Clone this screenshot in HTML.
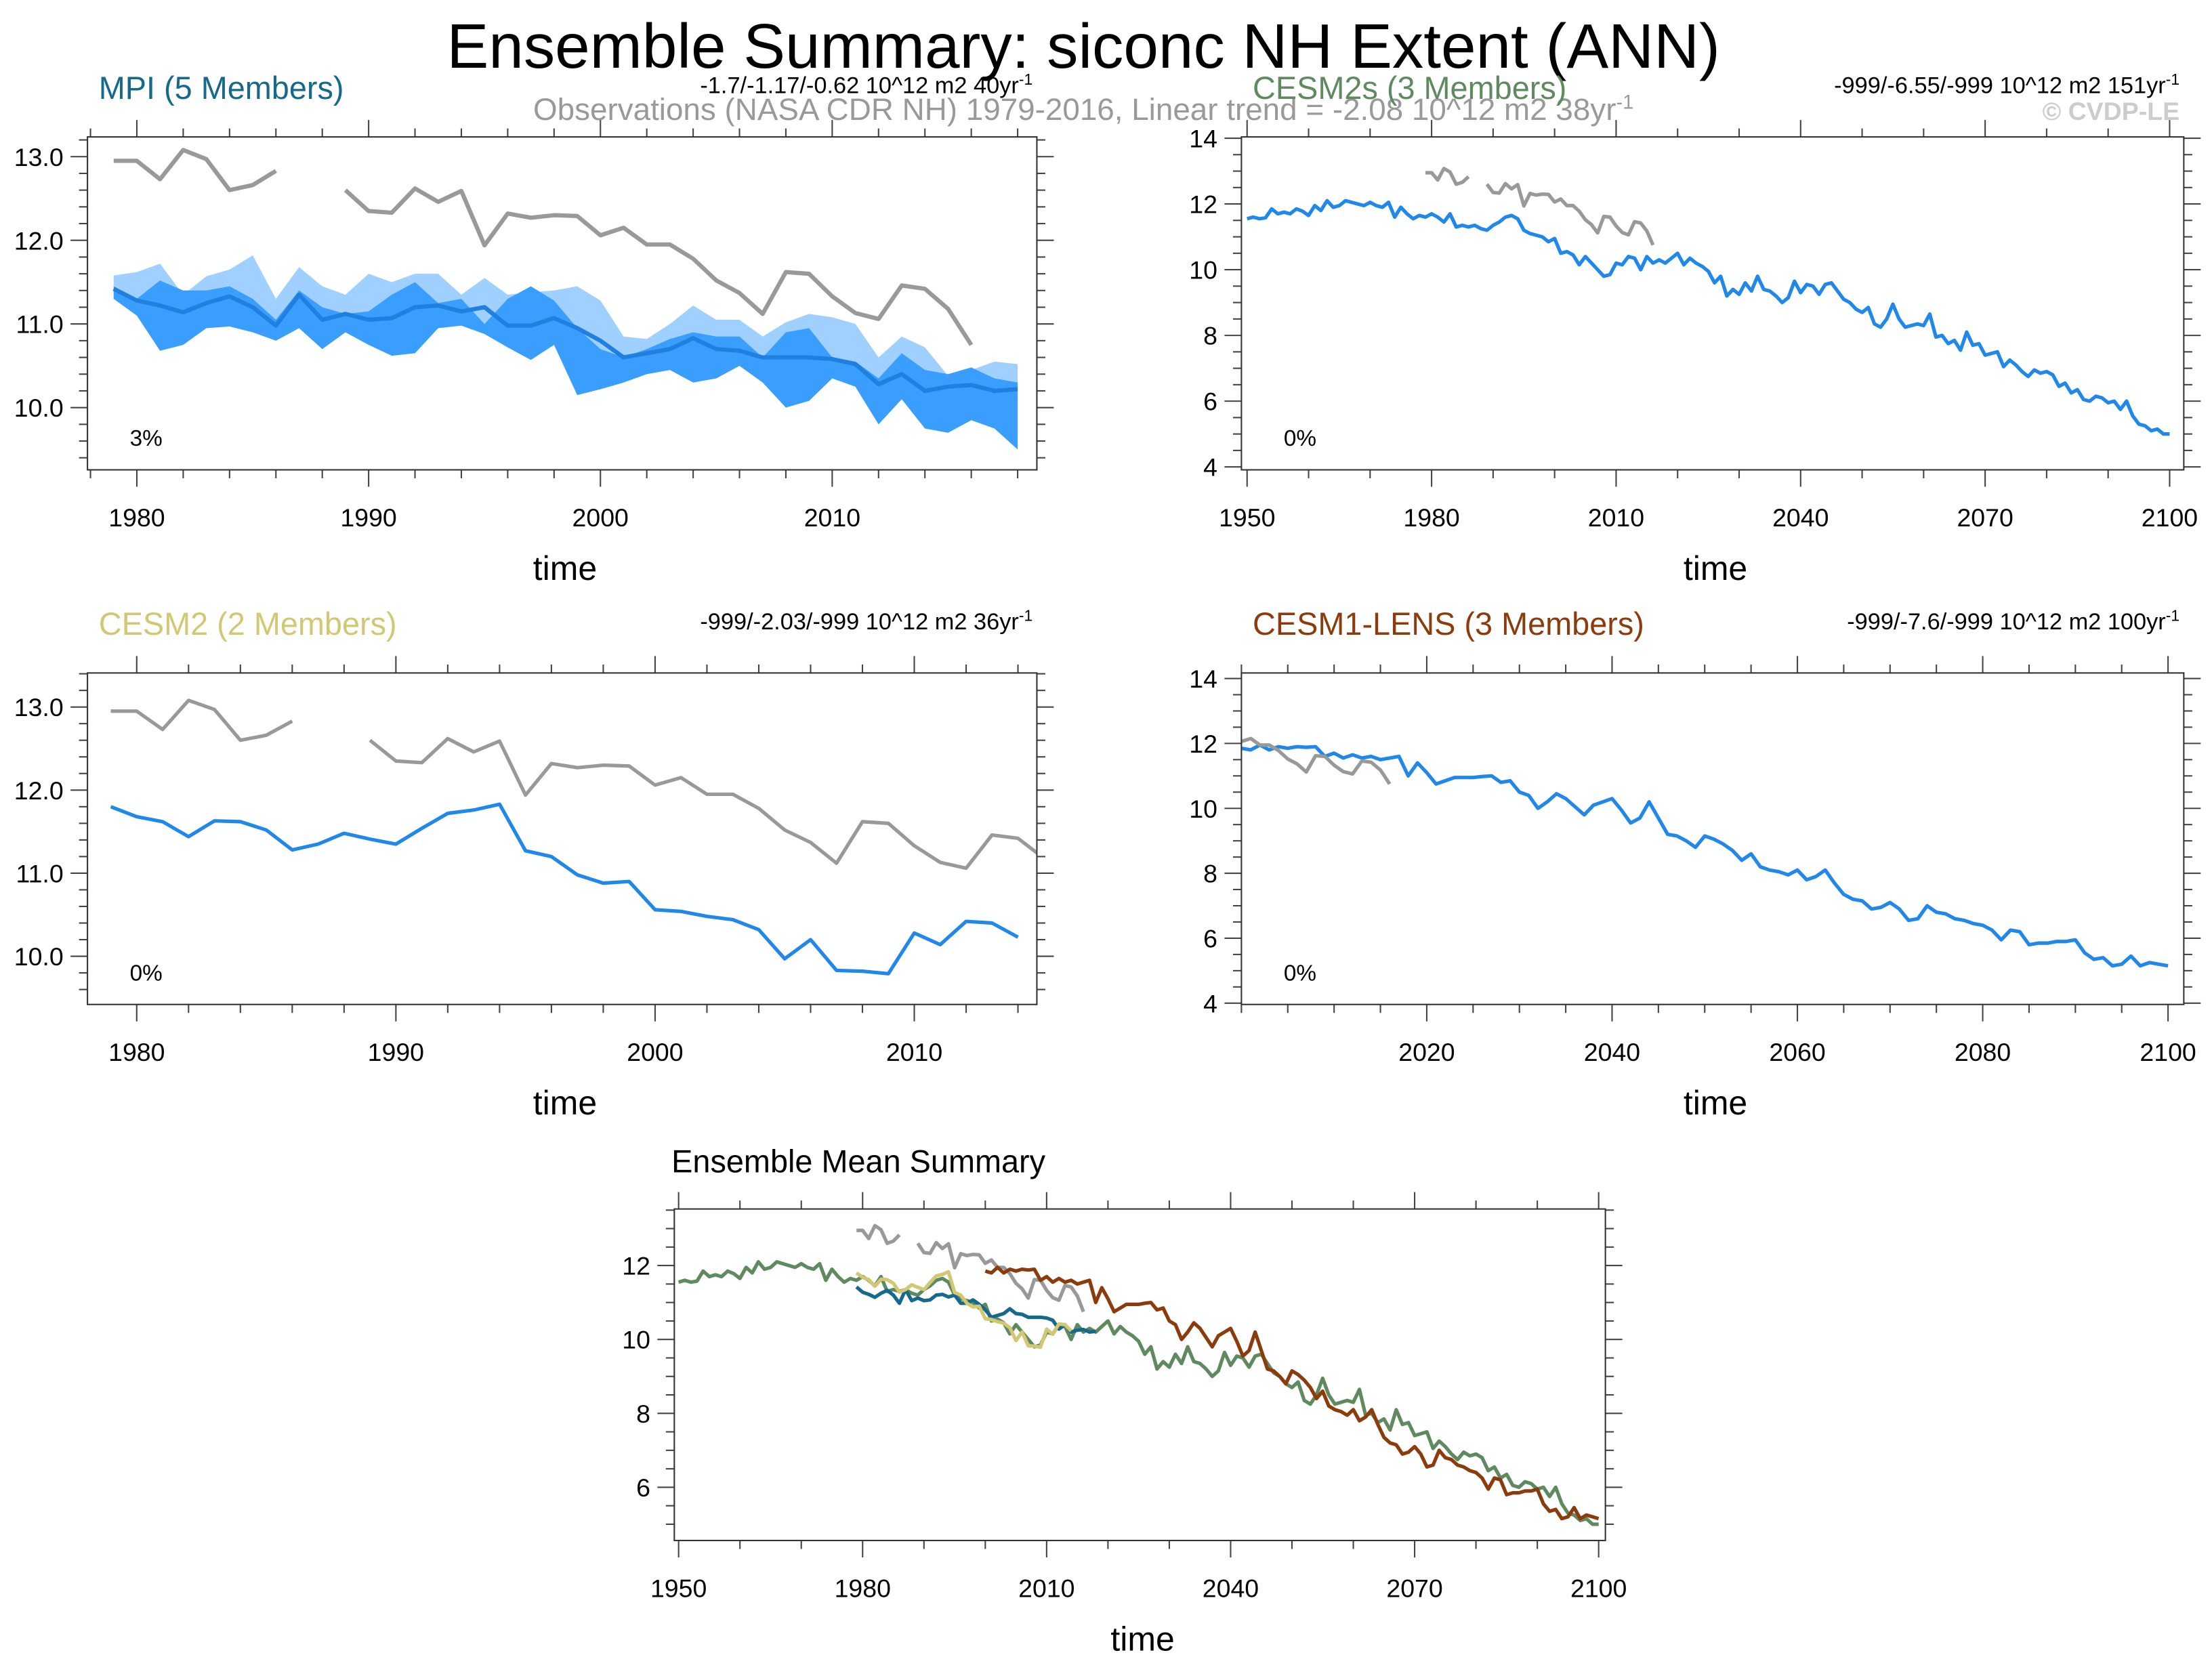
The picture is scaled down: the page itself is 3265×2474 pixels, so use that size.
<!DOCTYPE html>
<html><head><meta charset="utf-8"><style>
html,body{margin:0;padding:0;background:#fff;}
svg{display:block;font-family:"Liberation Sans",Arial,sans-serif;}
</style></head><body>
<svg id="chart" xmlns="http://www.w3.org/2000/svg" width="3265" height="2474" viewBox="0 0 1568 1188">
<rect x="0" y="0" width="1568" height="1188" fill="#fff"/>
<text x="768" y="48" font-size="44.5" text-anchor="middle">Ensemble Summary: siconc NH Extent (ANN)</text>
<text x="768" y="85" font-size="22" fill="#999" text-anchor="middle">Observations (NASA CDR NH) 1979-2016, Linear trend = -2.08 10^12 m2 38yr<tspan dy="-8" font-size="14">-1</tspan></text>
<text x="1545" y="85" font-size="18" font-weight="bold" fill="#ccc" text-anchor="end">© CVDP-LE</text>
</svg>
<script>
// ---- data ----
const obsYears = [1979,1980,1981,1982,1983,1984,1985,1986,1987,1988,1989,1990,1991,1992,1993,1994,1995,1996,1997,1998,1999,2000,2001,2002,2003,2004,2005,2006,2007,2008,2009,2010,2011,2012,2013,2014,2015,2016];
const obsValues = [12.95,12.95,12.73,13.08,12.97,12.6,12.66,12.83,null,null,12.6,12.35,12.33,12.62,12.46,12.59,11.94,12.32,12.27,12.3,12.29,12.06,12.15,11.95,11.95,11.78,11.52,11.37,11.12,11.62,11.6,11.33,11.13,11.06,11.46,11.42,11.18,10.75];
const mpiStart = 1979;
const mpiMean = [11.42,11.28,11.22,11.14,11.25,11.33,11.2,10.98,11.35,11.05,11.12,11.05,11.07,11.2,11.22,11.15,11.2,10.98,10.98,11.07,10.95,10.8,10.6,10.65,10.7,10.83,10.7,10.68,10.6,10.6,10.6,10.58,10.52,10.28,10.4,10.2,10.25,10.27,10.2,10.22];
const mpiMin = [11.3,11.1,10.68,10.75,10.95,10.97,10.9,10.8,10.95,10.7,10.9,10.75,10.62,10.65,10.95,10.98,10.88,10.72,10.57,10.75,10.15,10.22,10.3,10.4,10.45,10.3,10.35,10.5,10.3,10.0,10.08,10.35,10.25,9.8,10.1,9.75,9.7,9.85,9.75,9.5];
const mpiMax = [11.45,11.3,11.52,11.4,11.4,11.45,11.3,11.05,11.4,11.2,11.12,11.15,11.35,11.5,11.25,11.3,11.0,11.3,11.45,11.28,10.95,10.7,10.6,10.7,10.82,10.9,10.85,10.85,10.6,10.9,10.95,10.6,10.55,10.35,10.65,10.45,10.4,10.48,10.35,10.3];
const mpiUpper = [11.58,11.62,11.72,11.35,11.57,11.65,11.82,11.3,11.68,11.45,11.35,11.6,11.5,11.6,11.6,11.35,11.55,11.35,11.38,11.4,11.45,11.28,10.85,10.82,11.0,11.22,11.05,11.05,10.85,11.02,11.12,11.08,11.0,10.6,10.85,10.72,10.38,10.45,10.55,10.52];
const cesm2sStart = 1950;
const cesm2sMean = [11.55,11.6,11.55,11.58,11.85,11.7,11.75,11.7,11.85,11.78,
11.65,11.95,11.8,12.1,11.9,11.95,12.1,12.05,12.0,11.95,
12.05,11.95,11.9,12.05,11.6,11.9,11.7,11.55,11.65,11.6,
11.7,11.6,11.45,11.7,11.3,11.35,11.3,11.35,11.25,11.2,
11.35,11.45,11.6,11.65,11.55,11.2,11.1,11.05,11.0,10.85,
10.95,10.5,10.55,10.45,10.15,10.4,10.2,10.0,9.8,9.85,
10.2,10.15,10.4,10.35,10.0,10.4,10.2,10.3,10.2,10.35,
10.5,10.15,10.35,10.2,10.1,9.95,9.6,9.8,9.2,9.4,
9.25,9.6,9.35,9.8,9.4,9.35,9.2,9.0,9.15,9.65,
9.3,9.55,9.5,9.25,9.55,9.6,9.35,9.1,9.0,8.8,
8.7,8.85,8.35,8.25,8.5,8.95,8.5,8.25,8.3,8.35,
8.3,8.65,7.95,8.0,7.75,7.85,7.55,8.1,7.7,7.75,
7.4,7.45,7.5,7.05,7.25,7.1,6.9,6.75,6.95,6.85,
6.9,6.8,6.45,6.55,6.25,6.35,6.05,6.0,6.15,6.1,
5.95,6.0,5.75,6.0,5.55,5.3,5.25,5.1,5.15,5.0,5.0];
const cesm2Start = 1979;
const cesm2Mean = [11.8,11.68,11.62,11.44,11.63,11.62,11.52,11.28,11.35,11.48,11.41,11.35,11.54,11.72,11.76,11.83,11.27,11.2,10.98,10.88,10.9,10.56,10.54,10.48,10.44,10.32,9.97,10.2,9.83,9.82,9.79,10.28,10.14,10.42,10.4,10.23];
const lensStart = 2000;
const lensMean = [11.85,11.8,11.95,11.8,11.9,11.85,11.9,11.88,11.9,11.6,
11.7,11.55,11.65,11.55,11.6,11.5,11.55,11.6,11.0,11.4,
11.1,10.75,10.85,10.95,10.95,10.95,10.98,11.0,10.8,10.85,
10.5,10.4,10.0,10.2,10.45,10.3,10.05,9.8,10.1,10.2,
10.3,9.95,9.55,9.7,10.2,9.7,9.2,9.15,9.0,8.8,
9.15,9.05,8.9,8.7,8.4,8.6,8.2,8.1,8.05,7.95,
8.1,7.8,7.9,8.1,7.7,7.35,7.2,7.15,6.9,6.95,
7.1,6.9,6.55,6.6,7.0,6.8,6.75,6.6,6.55,6.45,
6.4,6.25,5.95,6.25,6.2,5.8,5.85,5.85,5.9,5.9,
5.95,5.55,5.35,5.4,5.15,5.2,5.45,5.15,5.25,5.2,5.15];
const trendLabels = ["-1.7/-1.17/-0.62 10^12 m2 40yr","-999/-6.55/-999 10^12 m2 151yr","-999/-2.03/-999 10^12 m2 36yr","-999/-7.6/-999 10^12 m2 100yr"];
const pctLabels = ["3%","0%","0%","0%"];

// ---- helpers ----
const NS = "http://www.w3.org/2000/svg";
const svg = document.getElementById('chart');
function mk(tag, attrs, parent, name, inter) {
  const el = document.createElementNS(NS, tag);
  for (const k in attrs) el.setAttribute(k, attrs[k]);
  
  
  (parent || svg).appendChild(el);
  return el;
}
function makePanel(p) {
  const g = mk('g', {}, svg, p.name, false);
  p.sx = v => p.x0 + (v - p.xmin) / (p.xmax - p.xmin) * (p.x1 - p.x0);
  p.sy = v => p.y1 - (v - p.ymin) / (p.ymax - p.ymin) * (p.y1 - p.y0);
  const cid = 'clip-' + p.name;
  const cp = mk('clipPath', {id: cid}, g, 'clip-region', false);
  mk('rect', {x: p.x0, y: p.y0, width: p.x1 - p.x0, height: p.y1 - p.y0}, cp, 'clip-rect', false);
  p.plot = mk('g', {'clip-path': 'url(#' + cid + ')'}, g, 'plot-area', false);
  p.g = g;
  const axes = mk('g', {stroke: '#444', 'stroke-width': 1}, g, 'axes', false);
  for (let t = p.xminorStart; t <= p.xmax; t += p.xminor) {
    const x = p.sx(t); if (x < p.x0 - 0.5) continue;
    const major = p.xticks.includes(t);
    const L = major ? 12 : 6;
    mk('line', {x1: x, x2: x, y1: p.y1, y2: p.y1 + L}, axes, major ? 'x-major-tick' : 'x-minor-tick', false);
    mk('line', {x1: x, x2: x, y1: p.y0, y2: p.y0 - L}, axes, major ? 'x-major-tick-top' : 'x-minor-tick-top', false);
  }
  for (let i = 0; ; i++) {
    const t = +(p.yminorStart + i * p.yminor).toFixed(4);
    if (t > p.ymax) break;
    const y = p.sy(t); if (y > p.y1 + 0.5) continue;
    const major = p.yticks.some(v => Math.abs(v - t) < 1e-6);
    const L = major ? 12 : 6;
    mk('line', {x1: p.x0, x2: p.x0 - L, y1: y, y2: y}, axes, major ? 'y-major-tick' : 'y-minor-tick', false);
    mk('line', {x1: p.x1, x2: p.x1 + L, y1: y, y2: y}, axes, major ? 'y-major-tick-right' : 'y-minor-tick-right', false);
  }
  mk('rect', {x: p.x0, y: p.y0, width: p.x1 - p.x0, height: p.y1 - p.y0, fill: 'none', stroke: '#333', 'stroke-width': 1}, axes, 'plot-frame', false);
  p.xticks.forEach(t => {
    const tx = mk('text', {x: p.sx(t), y: p.y1 + 40, 'font-size': 18, 'text-anchor': 'middle'}, g, 'x-tick-label', false);
    tx.textContent = t;
  });
  p.yticks.forEach(t => {
    const tx = mk('text', {x: p.x0 - 17, y: p.sy(t) + 6.5, 'font-size': 18, 'text-anchor': 'end'}, g, 'y-tick-label', false);
    tx.textContent = t.toFixed(p.ydec);
  });
  const xt = mk('text', {x: (p.x0 + p.x1) / 2 + 2, y: p.y1 + 78, 'font-size': 24, 'text-anchor': 'middle'}, g, 'x-axis-title', false);
  xt.textContent = 'time';
  return p;
}
function linePts(p, start, vals) {
  const segs = []; let cur = [];
  vals.forEach((v, i) => {
    if (v === null) { if (cur.length) segs.push(cur); cur = []; return; }
    cur.push(p.sx(start + i).toFixed(2) + ',' + p.sy(v).toFixed(2));
  });
  if (cur.length) segs.push(cur);
  return segs;
}
function drawLine(p, start, vals, color, width, name) {
  linePts(p, start, vals).forEach(s => {
    mk('polyline', {points: s.join(' '), fill: 'none', stroke: color, 'stroke-width': width, 'stroke-linejoin': 'round'}, p.plot, name, false);
  });
}
function drawBand(p, start, lo, hi, color, name) {
  const top = hi.map((v, i) => p.sx(start + i).toFixed(2) + ',' + p.sy(v).toFixed(2));
  const bot = lo.map((v, i) => p.sx(start + i).toFixed(2) + ',' + p.sy(v).toFixed(2)).reverse();
  mk('polygon', {points: top.concat(bot).join(' '), fill: color, stroke: 'none'}, p.plot, name, false);
}
function titles(p, left, color, right, pct) {
  const t = mk('text', {x: p.x0 + 8, y: p.y0 - 27, 'font-size': 22.5, fill: color}, p.g, 'panel-title', false);
  t.textContent = left;
  if (right) {
    const r = mk('text', {x: p.x1 - 3, y: p.y0 - 31, 'font-size': 16.5, 'text-anchor': 'end'}, p.g, 'trend-label', false);
    r.textContent = right;
    const s = mk('tspan', {dy: -6, 'font-size': 11}, r, 'trend-exponent', false);
    s.textContent = '-1';
  }
  if (pct) {
    const c = mk('text', {x: p.x0 + 30, y: p.y1 - 17, 'font-size': 16}, p.g, 'percent-label', false);
    c.textContent = pct;
  }
}
const OBS = '#999', BLUE = '#1f88ea';
const C_MPI = '#14698c', C_CESM2S = '#5f8a5f', C_CESM2 = '#d2c874', C_LENS = '#8c3c0c';

// Panel 1 MPI
const p1 = makePanel({name: 'panel-mpi', x0: 62, x1: 735, y0: 97, y1: 333, xmin: 1977.87, xmax: 2018.83, ymin: 9.256, ymax: 13.236,
  xticks: [1980, 1990, 2000, 2010], xminor: 2, xminorStart: 1978, yticks: [10, 11, 12, 13], yminor: 0.2, yminorStart: 9.4, ydec: 1});
drawBand(p1, mpiStart, mpiMin, mpiUpper, '#a0d0ff', 'spread-band-light');
drawBand(p1, mpiStart, mpiMin, mpiMax, '#3a9eff', 'spread-band-dark');
drawLine(p1, mpiStart, mpiMean, '#1f80e0', 3, 'mpi-mean-line');
drawLine(p1, obsYears[0], obsValues, OBS, 3, 'observations-line');
titles(p1, 'MPI (5 Members)', C_MPI, trendLabels[0], pctLabels[0]);

// Panel 2 CESM2s
const p2 = makePanel({name: 'panel-cesm2s', x0: 880, x1: 1548, y0: 97, y1: 333, xmin: 1949.08, xmax: 2102.3, ymin: 3.91, ymax: 14.04,
  xticks: [1950, 1980, 2010, 2040, 2070, 2100], xminor: 10, xminorStart: 1950, yticks: [4, 6, 8, 10, 12, 14], yminor: 0.5, yminorStart: 4, ydec: 0});
drawLine(p2, cesm2sStart, cesm2sMean, BLUE, 2.5, 'cesm2s-mean-line');
drawLine(p2, obsYears[0], obsValues, OBS, 2.5, 'observations-line');
titles(p2, 'CESM2s (3 Members)', C_CESM2S, trendLabels[1], pctLabels[1]);

// Panel 3 CESM2
const p3 = makePanel({name: 'panel-cesm2', x0: 62, x1: 735, y0: 477, y1: 712, xmin: 1978.1, xmax: 2014.73, ymin: 9.42, ymax: 13.41,
  xticks: [1980, 1990, 2000, 2010], xminor: 2, xminorStart: 1978, yticks: [10, 11, 12, 13], yminor: 0.2, yminorStart: 9.6, ydec: 1});
drawLine(p3, cesm2Start, cesm2Mean, BLUE, 2.5, 'cesm2-mean-line');
drawLine(p3, obsYears[0], obsValues, OBS, 2.5, 'observations-line');
titles(p3, 'CESM2 (2 Members)', C_CESM2, trendLabels[2], pctLabels[2]);

// Panel 4 CESM1-LENS
const p4 = makePanel({name: 'panel-cesm1-lens', x0: 880, x1: 1548, y0: 477, y1: 712, xmin: 2000, xmax: 2101.7, ymin: 3.96, ymax: 14.17,
  xticks: [2020, 2040, 2060, 2080, 2100], xminor: 5, xminorStart: 2000, yticks: [4, 6, 8, 10, 12, 14], yminor: 0.5, yminorStart: 4, ydec: 0});
drawLine(p4, lensStart, lensMean, BLUE, 2.5, 'cesm1-lens-mean-line');
drawLine(p4, obsYears[0], obsValues, OBS, 2.5, 'observations-line');
titles(p4, 'CESM1-LENS (3 Members)', C_LENS, trendLabels[3], pctLabels[3]);

// Panel 5 Ensemble mean summary
const p5 = makePanel({name: 'panel-ensemble-mean-summary', x0: 478, x1: 1138, y0: 857, y1: 1092, xmin: 1949.3, xmax: 2101.1, ymin: 4.56, ymax: 13.53,
  xticks: [1950, 1980, 2010, 2040, 2070, 2100], xminor: 10, xminorStart: 1950, yticks: [6, 8, 10, 12], yminor: 0.5, yminorStart: 5, ydec: 0});
drawLine(p5, obsYears[0], obsValues, OBS, 2.5, 'observations-line');
drawLine(p5, cesm2sStart, cesm2sMean, C_CESM2S, 2.5, 'cesm2s-mean-line');
drawLine(p5, lensStart, lensMean, C_LENS, 2.5, 'cesm1-lens-mean-line');
drawLine(p5, mpiStart, mpiMean, C_MPI, 2.5, 'mpi-mean-line');
drawLine(p5, cesm2Start, cesm2Mean, C_CESM2, 2.5, 'cesm2-mean-line');
const t5 = mk('text', {x: 476, y: 831, 'font-size': 22.5, fill: '#000'}, p5.g, 'panel-title', false);
t5.textContent = 'Ensemble Mean Summary';
</script>
</body></html>
